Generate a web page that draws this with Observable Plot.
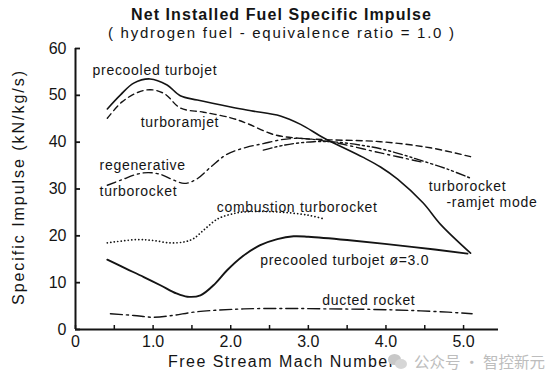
<!DOCTYPE html>
<html><head><meta charset="utf-8">
<script src="https://cdn.jsdelivr.net/npm/d3@7"></script>
<script src="https://cdn.jsdelivr.net/npm/@observablehq/plot@0.6"></script>
<style>
body{margin:0;background:#fff;}
#wrap{position:relative;width:553px;height:381px;overflow:hidden;}
#wm{position:absolute;left:388px;top:354px;height:15px;line-height:15px;display:flex;align-items:center;color:#bdbdbd;font-family:"Noto Sans CJK SC",sans-serif;font-size:15.5px;white-space:pre;}
#wm .ic{position:relative;width:20px;height:15px;margin-right:6px;}
#wm .ic i{position:absolute;border-radius:50%;background:#c8c8c8;}
</style>
</head><body><div id="wrap"></div>
<script>
// ---- text ----
const titleText = "Net Installed Fuel Specific Impulse";
const subtitleText = "( hydrogen fuel - equivalence ratio = 1.0 )";
const xLabel = "Free Stream Mach Number";
const yLabel = "Specific Impulse (kN/kg/s)";
const watermark = "公众号 · 智控新元";

// ---- ticks ----
const xTicksAll = [0, 0.5, 1, 1.5, 2, 2.5, 3, 3.5, 4, 4.5, 5];
const xTicksMajor = [0, 1, 2, 3, 4, 5];
const xTickLabels = ["0", "1.0", "2.0", "3.0", "4.0", "5.0"];
const yTicks = [0, 10, 20, 30, 40, 50, 60];
const yTickLabels = ["0", "10", "20", "30", "40", "50", "60"];

// ---- series (Mach, specific impulse kN/kg/s) ----
const precooledMach = [0.41, 0.58, 0.75, 0.96, 1.18, 1.35, 1.57, 2.0, 2.26, 2.64, 2.9, 3.2, 3.7, 3.93, 4.15, 4.48, 4.7, 5.09];
const precooledIsp  = [47.1, 50.1, 52.6, 53.5, 52.2, 49.9, 49.0, 47.5, 46.7, 45.6, 43.8, 40.9, 36.8, 34.7, 32.1, 27.0, 22.5, 16.3];

const turboramjetMach = [0.41, 0.6, 0.8, 0.97, 1.15, 1.35, 1.65, 2.0, 2.21, 2.56, 2.9, 3.29, 3.93, 4.57, 5.09];
const turboramjetIsp  = [45.1, 48.6, 50.6, 51.2, 50.3, 47.3, 46.4, 45.2, 44.0, 41.6, 40.8, 40.5, 40.1, 38.8, 36.9];

const regenMach = [0.41, 0.6, 0.8, 0.94, 1.1, 1.25, 1.4, 1.55, 1.75, 1.95, 2.2, 2.42, 2.64, 2.81, 3.0, 3.37, 3.93, 4.45];
const regenIsp  = [30.8, 32.0, 33.2, 33.5, 33.1, 32.0, 31.2, 32.0, 34.8, 37.4, 38.9, 39.7, 40.5, 40.8, 40.7, 39.8, 37.7, 35.8];

const ramjetModeMach = [2.42, 2.7, 3.07, 3.37, 3.7, 3.93, 4.2, 4.45, 4.8, 5.09];
const ramjetModeIsp  = [38.3, 39.4, 40.1, 40.0, 39.3, 38.6, 37.4, 36.1, 34.2, 32.3];

const combustionMach = [0.41, 0.8, 1.0, 1.22, 1.4, 1.52, 1.65, 1.83, 2.0, 2.17, 2.6, 3.0, 3.18];
const combustionIsp  = [18.5, 19.2, 19.0, 18.5, 18.7, 19.4, 21.2, 23.6, 24.6, 25.1, 25.1, 24.4, 23.7];

const precooled3Mach = [0.41, 0.65, 0.88, 1.1, 1.3, 1.44, 1.61, 1.8, 1.95, 2.15, 2.38, 2.6, 2.81, 3.0, 3.5, 4.36, 5.05];
const precooled3Isp  = [14.9, 13.0, 11.2, 9.4, 7.7, 7.0, 7.3, 9.8, 12.6, 15.6, 18.0, 19.3, 19.9, 19.8, 19.1, 17.6, 16.2];

const ductedMach = [0.45, 0.75, 1.01, 1.25, 1.52, 1.8, 2.17, 2.7, 3.24, 3.8, 4.32, 4.8, 5.11];
const ductedIsp  = [3.35, 3.0, 2.6, 3.0, 3.7, 4.1, 4.4, 4.5, 4.4, 4.3, 4.07, 3.7, 3.35];

// ---- curve labels (anchored in data space) ----
const labelTexts = ["precooled turbojet", "turboramjet", "regenerative", "turborocket", "combustion turborocket", "turborocket", "-ramjet mode", "precooled turbojet ø=3.0", "ducted rocket"];
const labelMach  = [0.22, 0.84, 0.31, 0.31, 1.82, 4.55, 4.78, 2.38, 3.18];
const labelIsp   = [55.4, 44.1, 35.1, 29.4, 26.0, 30.6, 27.2, 14.7, 6.2];

// ---- build ----
const seriesList = [
  {key: "precooled", mach: precooledMach, isp: precooledIsp},
  {key: "turboramjet", mach: turboramjetMach, isp: turboramjetIsp},
  {key: "regen", mach: regenMach, isp: regenIsp},
  {key: "ramjetMode", mach: ramjetModeMach, isp: ramjetModeIsp},
  {key: "combustion", mach: combustionMach, isp: combustionIsp},
  {key: "precooled3", mach: precooled3Mach, isp: precooled3Isp},
  {key: "ducted", mach: ductedMach, isp: ductedIsp}
];
const lineStyle = {
  precooled:   {strokeWidth: 1.6},
  turboramjet: {strokeWidth: 1.4, strokeDasharray: "6,4"},
  regen:       {strokeWidth: 1.4, strokeDasharray: "9,4,2,4"},
  ramjetMode:  {strokeWidth: 1.4, strokeDasharray: "9,3,2,3,2,3"},
  combustion:  {strokeWidth: 1.7, strokeDasharray: "0.1,3.4", strokeLinecap: "round"},
  precooled3:  {strokeWidth: 1.9},
  ducted:      {strokeWidth: 1.4, strokeDasharray: "12,4,2,4"}
};
const ink = "#141414";

const lineMarks = seriesList.map(s => {
  const rows = s.mach.map((m, i) => ({mach: m, isp: s.isp[i]}));
  return Plot.line(rows, {x: "mach", y: "isp", stroke: ink, curve: "catmull-rom", ...lineStyle[s.key]});
});

const labelIdx = labelTexts.map((_, i) => i);

const chart = Plot.plot({
  width: 553, height: 381,
  marginLeft: 75, marginRight: 55, marginTop: 48, marginBottom: 52,
  x: {domain: [0, 5.45], label: null},
  y: {domain: [0, 60], label: null},
  style: {fontFamily: "'Liberation Sans', Arial, sans-serif", background: "#fff", color: ink},
  marks: [
    // tick labels
    Plot.axisY(yTicks, {tickSize: 0, tickPadding: 9, fontSize: 16, tickFormat: d => yTickLabels[yTicks.indexOf(d)], label: null}),
    Plot.axisX(xTicksMajor, {tickSize: 0, tickPadding: 6, fontSize: 16, tickFormat: d => xTickLabels[xTicksMajor.indexOf(d)], label: null}),
    // inward ticks
    Plot.axisY(yTicks, {tickSize: 5, dx: 5, strokeWidth: 1.8, tickFormat: () => "", label: null}),
    Plot.axisX(xTicksAll, {tickSize: 4, dy: -4, strokeWidth: 1.5, tickFormat: () => "", label: null}),
    // axis lines
    Plot.ruleX([0], {stroke: ink, strokeWidth: 2}),
    Plot.ruleY([0], {stroke: ink, strokeWidth: 2}),
    ...lineMarks,
    Plot.text(labelIdx, {x: i => labelMach[i], y: i => labelIsp[i], text: i => labelTexts[i], textAnchor: "start", fontSize: 14, fill: ink}),
    // titles
    Plot.text([titleText], {frameAnchor: "top", dy: -34, dx: -6, fontSize: 16, fontWeight: "bold", textAnchor: "middle", lineAnchor: "middle", fill: ink}),
    Plot.text([subtitleText], {frameAnchor: "top", dy: -15, dx: -6, fontSize: 15, textAnchor: "middle", lineAnchor: "middle", fill: ink}),
    Plot.text([xLabel], {frameAnchor: "bottom", dy: 32, dx: -6, fontSize: 16, textAnchor: "middle", lineAnchor: "middle", fill: ink}),
    Plot.text([yLabel], {frameAnchor: "left", dx: -57, dy: -1, rotate: -90, fontSize: 16, textAnchor: "middle", lineAnchor: "middle", fill: ink})
  ]
});

// fit text widths to the scanned typography (wide letter spacing)
const fitLength = new Map([[titleText, 300], [subtitleText, 346], [xLabel, 226], [yLabel, 234]]);
d3.select(chart).selectAll("text").each(function() {
  const t = this.textContent;
  const el = d3.select(this);
  if (fitLength.has(t)) el.attr("textLength", fitLength.get(t)).attr("lengthAdjust", "spacing");
  else if (labelTexts.includes(t)) el.style("letter-spacing", "0.7px");
});

const wrap = document.getElementById("wrap");
wrap.appendChild(chart);
const wm = document.createElement("div");
wm.id = "wm";
wm.innerHTML = '<span class="ic"><i style="left:0;top:0;width:13px;height:11px"></i><i style="left:7px;top:5px;width:12px;height:10px;background:#d6d6d6"></i></span>';
wm.appendChild(document.createTextNode(watermark));
wrap.appendChild(wm);
</script>
</body></html>
